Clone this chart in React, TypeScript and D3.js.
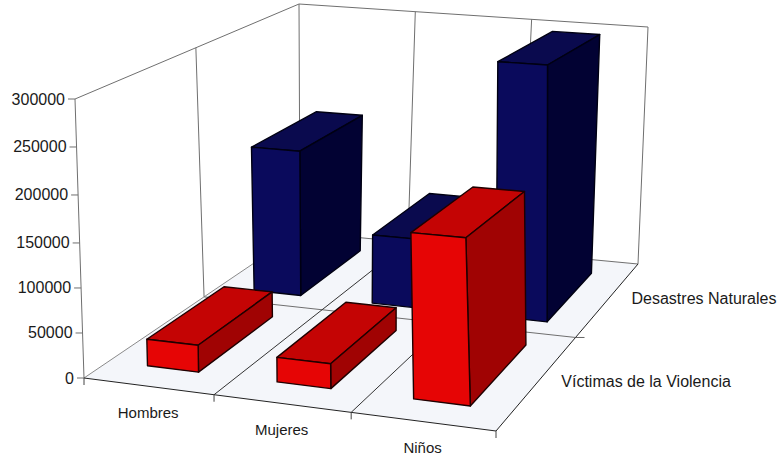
import React from "react";
import * as d3 from "d3";

const categories = ["Hombres", "Mujeres", "Niños"];
const seriesNames = ["Víctimas de la Violencia", "Desastres Naturales"];
const victimas = [30000, 27000, 176000];
const desastres = [178000, 84000, 298000];
const seriesValues = [victimas, desastres];
const ticks = [0, 50000, 100000, 150000, 200000, 250000, 300000];

type Pt = number[];
const FLOOR_CORNERS: Pt[] = [[84, 378], [496, 431], [638, 264], [300, 232]];
const TOP_CORNERS: Pt[] = [[75, 99], [484, 126], [648, 27], [299, 4]];

function homography(q: Pt[]) {
  const [[x0, y0], [x1, y1], [x2, y2], [x3, y3]] = q;
  const dx1 = x1 - x2, dx2 = x3 - x2, sx = x0 - x1 + x2 - x3;
  const dy1 = y1 - y2, dy2 = y3 - y2, sy = y0 - y1 + y2 - y3;
  const det = dx1 * dy2 - dx2 * dy1;
  const g = (sx * dy2 - dx2 * sy) / det;
  const h = (dx1 * sy - sx * dy1) / det;
  const a = x1 - x0 + g * x1, b = x3 - x0 + h * x3;
  const d = y1 - y0 + g * y1, e = y3 - y0 + h * y3;
  return (u: number, v: number): [number, number] => {
    const w = g * u + h * v + 1;
    return [(a * u + b * v + x0) / w, (d * u + e * v + y0) / w];
  };
}

const floorH = homography(FLOOR_CORNERS);
const topH = homography(TOP_CORNERS);
const P = (u: number, v: number, t: number): [number, number] => {
  const a = floorH(u, v), b = topH(u, v);
  return [a[0] + (b[0] - a[0]) * t, a[1] + (b[1] - a[1]) * t];
};

const yScale = d3.scaleLinear().domain([0, 150000, 300000]).range([0, 0.484, 1]);
const uBand = d3.scaleBand<string>().domain(categories).range([0, 1]).paddingInner(0.6).paddingOuter(0.3).align(0.51);
const uCell = d3.scaleBand<string>().domain(categories).range([0, 1]);
const vBand = d3.scaleBand<string>().domain(seriesNames).range([0, 1]).paddingInner(0.3).paddingOuter(0.2);
const vCell = d3.scaleBand<string>().domain(seriesNames).range([0, 1]);

const path = (pts: [number, number][]) => d3.line()(pts) + "Z";
const FONT = "'Liberation Sans', Arial, sans-serif";
const GRID = "#6f6f6f";

const colors = [
  { front: "#e60505", side: "#a00303", top: "#c40404", edge: "#1f0000" },
  { front: "#0a0a5c", side: "#020233", top: "#0a0a4e", edge: "#000012" },
];

function Bar({ cat, ser, value, sIdx }: { cat: string; ser: string; value: number; sIdx: number }) {
  const u0 = uBand(cat)!, u1 = u0 + uBand.bandwidth();
  const v0 = vBand(ser)!, v1 = v0 + vBand.bandwidth();
  const t = yScale(value);
  const c = colors[sIdx];
  const common = { stroke: c.edge, strokeWidth: 1.4, strokeLinejoin: "round" as const };
  return (
    <g>
      <path d={path([P(u0, v0, t), P(u1, v0, t), P(u1, v1, t), P(u0, v1, t)])} fill={c.top} {...common} />
      <path d={path([P(u1, v0, 0), P(u1, v1, 0), P(u1, v1, t), P(u1, v0, t)])} fill={c.side} {...common} />
      <path d={path([P(u0, v0, 0), P(u1, v0, 0), P(u1, v0, t), P(u0, v0, t)])} fill={c.front} {...common} />
    </g>
  );
}

export default function App() {
  const order = [1, 0];
  const seg = (a: [number, number], b: [number, number], key: string, stroke = GRID, w = 1) => (
    <line key={key} x1={a[0]} y1={a[1]} x2={b[0]} y2={b[1]} stroke={stroke} strokeWidth={w} />
  );
  const cuts = [1 / 3, 2 / 3];
  return (
    <svg width={784} height={459} style={{ position: "absolute", left: 0, top: 0, background: "#fff" }}>
      <path d={path([P(0, 0, 0), P(1, 0, 0), P(1, 1, 0), P(0, 1, 0)])} fill="#f4f6fa" />
      {seg(P(0, 0, 0), P(0, 0, 1), "l0")}
      {seg(P(0, 0, 1), P(0, 1, 1), "l1")}
      {seg(P(0, 1, 0), P(0, 1, 1), "l2")}
      {seg(P(0, 1, 1), P(1, 1, 1), "l3")}
      {seg(P(1, 1, 0), P(1, 1, 1), "l4")}
      {seg(P(0, 0.5, 0), P(0, 0.5, 1), "l5")}
      {seg(P(0, 1, 0), P(1, 1, 0), "l6")}
      {seg(P(0, 0, 0), P(0, 1, 0), "l7", "#8a8a8a")}
      {seg(P(0, 0.5, 0), P(1, 0.5, 0), "l8")}
      {cuts.map((u, i) => seg(P(u, 0, 0), P(u, 1, 0), `f${i}`, "#333"))}
      {cuts.map((u, i) => seg(P(u, 1, 0), P(u, 1, 1), `b${i}`))}
      {seg(P(0, 0, 0), P(1, 0, 0), "fr", "#222")}
      {seg(P(1, 0, 0), P(1, 1, 0), "rt", "#222")}

      {ticks.map((tk) => {
        const [x, y] = P(0, 0, yScale(tk));
        return (
          <g key={tk}>
            <line x1={x - 7} y1={y} x2={x} y2={y} stroke={GRID} />
            <text x={x - 10} y={y} textAnchor="end" dominantBaseline="central" fontFamily={FONT} fontSize={16} fill="#1a1a1a">
              {tk}
            </text>
          </g>
        );
      })}
      {[0, ...cuts, 1].map((u, i) => {
        const [x, y] = P(u, 0, 0);
        return <line key={i} x1={x} y1={y} x2={x} y2={y + 7} stroke="#444" />;
      })}
      {[0.5].map((v, i) => {
        const [x, y] = P(1, v, 0);
        return <line key={i} x1={x} y1={y} x2={x + 9} y2={y} stroke="#666" />;
      })}

      {order.map((s) =>
        categories.map((cat, i) => (
          <Bar key={`${s}-${i}`} cat={cat} ser={seriesNames[s]} value={seriesValues[s][i]} sIdx={s} />
        ))
      )}

      {categories.map((cat) => {
        const [x, y] = P(uCell(cat)! + uCell.bandwidth() / 2, 0, 0);
        return (
          <text key={cat} x={x} y={y + 26} textAnchor="middle" dominantBaseline="central" fontFamily={FONT} fontSize={15} fill="#1a1a1a">
            {cat}
          </text>
        );
      })}
      {seriesNames.map((name) => {
        const [x, y] = P(1, vCell(name)! + vCell.bandwidth() / 2, 0);
        return (
          <text key={name} x={x + 23} y={y} dominantBaseline="central" fontFamily={FONT} fontSize={16} fill="#1a1a1a">
            {name}
          </text>
        );
      })}
    </svg>
  );
}
